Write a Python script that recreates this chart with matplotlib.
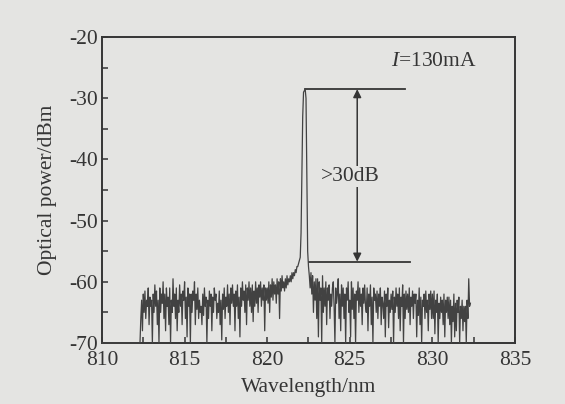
import numpy as np
import matplotlib
matplotlib.use("Agg")
import matplotlib.pyplot as plt

plt.rcParams['font.family'] = ['Liberation Serif', 'DejaVu Serif']
plt.rcParams['axes.unicode_minus'] = False
plt.rcParams['mathtext.fontset'] = 'custom'
plt.rcParams['mathtext.it'] = 'Liberation Serif:italic'
plt.rcParams['mathtext.rm'] = 'Liberation Serif'

# ---- data ----
base_wl = [810.0, 812.2]
base_pw = [-70.0, -70.0]

left_span = (812.3, 821.85)
left_noise = [
    -70, -66, -63, -68, -62, -65, -61.5, -66, -63, -64, -61, -67, -62.5, -64,
    -63, -70, -62, -65, -60.5, -64, -61.5, -67, -63, -70, -61, -65, -62, -63.5, -60, -66, -62, -68, -61, -64,
    -62.5, -67, -61, -70, -63, -65, -59.5, -64, -62, -66, -61, -68, -63, -65, -60.5, -64, -62, -67, -61.5, -63,
    -60, -66, -62.5, -69, -61, -64, -62, -70, -62, -65, -61.5, -63, -60, -67, -62, -64.5, -61, -66, -63, -65,
    -64, -67, -62, -65.5, -61, -64, -62.5, -70, -63, -66, -61.5, -64, -62, -68, -62.5, -65, -61, -63, -62, -66,
    -63.5, -65, -61.5, -67, -63, -69.5, -62, -64.5, -61, -66, -62.5, -64, -60.5, -65, -62, -67, -61, -63.5, -60.5, -64,
    -62, -68, -61.5, -64, -60.5, -66, -62.5, -69, -61, -64, -60, -63, -61.5, -65, -60.5, -67, -61, -63, -60, -64,
    -61, -65, -60.5, -66.5, -61.5, -64, -60, -63.5, -61, -65, -60.5, -62.5, -60, -64, -61, -63, -60.5, -68, -61, -63,
    -61, -63.5, -60, -65, -60.5, -62.5, -59.5, -63, -60, -62, -60.5, -63.5, -59.5, -62, -60, -66, -59.5, -61.5, -59, -61,
    -60, -61.5, -59.5, -61, -59, -60.5, -59.5, -60, -59, -60, -58.5, -59.5, -58.5, -59, -58, -58.5, -57.5, -57.5,
]

peak_wl = [821.9, 822.0, 822.05, 822.1, 822.15, 822.2, 822.3, 822.35, 822.4, 822.45, 822.5]
peak_pw = [-57, -56, -52, -42, -33, -29, -28.5, -30, -42, -55, -57.5]

right_span = (822.55, 832.3)
right_noise = [
    -59, -61, -58.5, -62, -59, -65, -60, -63, -59.5,
    -66, -59.5, -69, -60, -63, -61, -70, -59, -65, -61, -64, -60, -67, -61, -63, -60.5, -66, -62, -64, -61,
    -60, -64, -70, -61, -63.5, -62, -59.5, -66, -62, -68, -60.5, -64, -61, -66, -62, -70, -61, -63, -60, -65,
    -63, -69, -60, -64.5, -61, -66, -62, -70, -61.5, -63, -60, -65, -61, -64, -62, -67, -61, -63.5, -60.5, -64,
    -65, -61, -68, -62, -64, -60.5, -67, -62.5, -70, -61, -63, -62, -65, -61.5, -66, -62, -64, -61, -67, -62.5,
    -63.5, -66, -61.5, -69, -62, -64, -61, -67.5, -63, -65, -62, -64.5, -61.5, -70, -62.5, -65, -61, -64, -62, -66,
    -61, -68, -62.5, -64, -60.5, -70, -62, -66, -61.5, -64.5, -62, -65, -61, -67, -62.5, -64, -61.5, -66, -62, -63.5,
    -62, -69, -63, -65.5, -61, -67, -62.5, -70, -63, -64, -62, -66, -61.5, -65, -63, -68, -62, -64.5, -61.5, -66,
    -62, -66, -61.5, -68.5, -63, -65, -62, -70, -63.5, -66, -62.5, -65, -63, -67, -62, -69, -63, -65, -62.5, -66,
    -62.5, -67, -63, -70, -64, -66.5, -62, -69, -63.5, -68, -63, -65, -62.5, -70, -64, -66, -63, -68, -64, -66.5,
    -64, -70, -63, -66, -59.5, -64, -63.5,
]

top_level = -28.5      # peak power
floor_level = -56.7    # side-mode level marker
label_db = ">30dB"
label_current = "$I$=130mA"

xticks = [810, 815, 820, 825, 830, 835]
yticks = [-20, -30, -40, -50, -60, -70]

# ---- assemble ----
left_wl = np.linspace(left_span[0], left_span[1], len(left_noise))
right_wl = np.linspace(right_span[0], right_span[1], len(right_noise))
wl = np.concatenate([base_wl, left_wl, peak_wl, right_wl])
pw = np.concatenate([base_pw, left_noise, peak_pw, right_noise])

bg = '#e4e4e2'
ink = '#353535'

fig = plt.figure(figsize=(5.65, 4.04), dpi=100, facecolor=bg)
ax = fig.add_axes([0.1805, 0.151, 0.731, 0.757], facecolor=bg)

ax.plot(wl, pw, color='#424242', lw=0.9, clip_on=False, zorder=3)

# annotation lines
ax.plot([822.3, 828.35], [top_level, top_level], color=ink, lw=1.3)
ax.plot([822.55, 828.65], [floor_level, floor_level], color=ink, lw=1.3)
ax.annotate('', xy=(825.45, top_level), xytext=(825.45, floor_level),
            arrowprops=dict(arrowstyle='<|-|>', color=ink, lw=1.1,
                            mutation_scale=12, shrinkA=0, shrinkB=0))
ax.text(825.05, -42.8, label_db, ha='center', va='center', fontsize=15.5,
        color=ink, bbox=dict(facecolor=bg, edgecolor='none', pad=1.0), zorder=4)
ax.text(830.1, -24.0, label_current, ha='center', va='center', fontsize=15.5, color=ink)

ax.set_xlim(810, 835)
ax.set_ylim(-70, -20)
ax.set_xticks(xticks)
ax.set_yticks(yticks)
ax.set_xticks(np.arange(812.5, 835, 5), minor=True)
ax.set_yticks(np.arange(-65, -20, 10), minor=True)
ax.tick_params(which='both', direction='in', length=4, width=1.1, color=ink,
               top=False, right=False, labelcolor=ink, labelsize=15.5)
ax.tick_params(axis='x', pad=6)
ax.tick_params(axis='y', pad=3)

for s in ax.spines.values():
    s.set_color(ink)
    s.set_linewidth(1.4)

ax.set_xlabel('Wavelength/nm', fontsize=15.5, color=ink)
ax.set_ylabel('Optical power/dBm', fontsize=15.5, color=ink)
ax.xaxis.set_label_coords(0.5, -0.145)
ax.xaxis.label.set_va('center')
ax.yaxis.set_label_coords(-0.133, 0.5)
ax.yaxis.label.set_va('center')

fig.savefig('out.png', dpi=100, facecolor=bg)
